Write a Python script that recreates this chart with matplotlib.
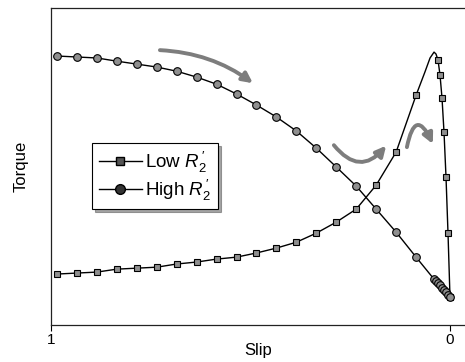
import matplotlib
matplotlib.use("Agg")
import matplotlib.pyplot as plt

plt.rcParams['font.family'] = ['Liberation Sans', 'DejaVu Sans']
plt.rcParams['mathtext.fontset'] = 'custom'
plt.rcParams['mathtext.it'] = 'Liberation Sans:italic'
plt.rcParams['mathtext.rm'] = 'Liberation Sans'

# Low R2' : marker points (slip, torque in relative units)
low_slip = [0.985, 0.935, 0.885, 0.835, 0.785, 0.735, 0.685, 0.635, 0.585, 0.535,
            0.485, 0.435, 0.385, 0.335, 0.285, 0.235, 0.185, 0.135, 0.085,
            0.030, 0.025, 0.020, 0.015, 0.010, 0.005, 0.0]
low_torque = [0.094, 0.098, 0.102, 0.114, 0.118, 0.122, 0.135, 0.143, 0.155, 0.163,
              0.180, 0.200, 0.224, 0.261, 0.306, 0.359, 0.457, 0.592, 0.824,
              0.967, 0.906, 0.812, 0.673, 0.490, 0.261, 0.0]
# extra line-only points around the pull-out peak
low_peak_slip = [0.063, 0.050, 0.040, 0.035]
low_peak_torque = [0.918, 0.976, 1.000, 0.992]

# High R2'
high_slip = [0.985, 0.935, 0.885, 0.835, 0.785, 0.735, 0.685, 0.635, 0.585, 0.535,
             0.485, 0.435, 0.385, 0.335, 0.285, 0.235, 0.185, 0.135, 0.085,
             0.040, 0.035, 0.030, 0.025, 0.020, 0.015, 0.010, 0.005, 0.0]
high_torque = [0.984, 0.980, 0.976, 0.963, 0.951, 0.939, 0.922, 0.898, 0.869, 0.829,
               0.784, 0.735, 0.678, 0.608, 0.531, 0.453, 0.359, 0.265, 0.163,
               0.073, 0.065, 0.057, 0.049, 0.037, 0.029, 0.020, 0.008, 0.0]

labels = ["Low $R_{2}^{\\,\\prime}$", "High $R_{2}^{\\,\\prime}$"]
x_ticks = [1, 0]
x_ticklabels = ["1", "0"]

fig = plt.figure(figsize=(4.65, 3.62), dpi=100)
ax = fig.add_axes([51/465, 37/362, 414/465, 317/362])

# merge the line-only peak points into the low line
low_line = sorted(zip(low_slip + low_peak_slip, low_torque + low_peak_torque), reverse=True)
lx = [p[0] for p in low_line]
ly = [p[1] for p in low_line]

ax.plot(lx, ly, color='black', lw=1.0, zorder=2)
ax.plot(low_slip, low_torque, ls='none', marker='s', ms=5, mfc='#8f8f8f',
        mec='black', mew=0.8, zorder=3)
ax.plot(high_slip, high_torque, color='black', lw=1.0, marker='o', ms=5.5,
        mfc='#8f8f8f', mec='black', mew=0.8, zorder=3)

# legend proxies
h1, = ax.plot([], [], color='black', lw=1.0, marker='s', ms=6, mfc='#555555', mec='black')
h2, = ax.plot([], [], color='black', lw=1.0, marker='o', ms=7, mfc='#333333', mec='black')
leg = ax.legend([h1, h2], labels, loc='upper left', bbox_to_anchor=(0.099, 0.574),
                borderaxespad=0, fontsize=13.5, handlelength=2.3, handletextpad=0.2,
                frameon=True, fancybox=False, shadow=True, edgecolor='black',
                borderpad=0.35, labelspacing=0.15)
leg.get_frame().set_linewidth(0.8)

# curved arrows
arrow_kw = dict(arrowstyle='-|>,head_length=0.6,head_width=0.3', lw=2.8,
                color='#7d7d7d', shrinkA=0, shrinkB=0)
ax.annotate('', xy=(0.494, 0.873), xytext=(0.727, 1.008),
            arrowprops=dict(connectionstyle='arc3,rad=-0.15', **arrow_kw))
ax.annotate('', xy=(0.160, 0.618), xytext=(0.291, 0.620),
            arrowprops=dict(connectionstyle='arc3,rad=0.6', **arrow_kw))
ax.annotate('', xy=(0.043, 0.625), xytext=(0.108, 0.612),
            arrowprops=dict(connectionstyle='arc3,rad=-1.5', **arrow_kw))

ax.set_xlim(1.0, -0.0376)
ax.set_ylim(-0.114, 1.180)
ax.set_xticks(x_ticks)
ax.set_xticklabels(x_ticklabels, fontsize=11)
ax.set_yticks([])
ax.tick_params(axis='x', direction='out', length=4, width=0.8, pad=2)
ax.spines['right'].set_visible(False)
for s in ['left', 'bottom', 'top']:
    ax.spines[s].set_linewidth(0.9)
    ax.spines[s].set_color('#222222')

ax.set_xlabel('Slip', fontsize=12, labelpad=-3)
ax.set_ylabel('Torque', fontsize=12, labelpad=16)

fig.savefig('out.png', dpi=100)
